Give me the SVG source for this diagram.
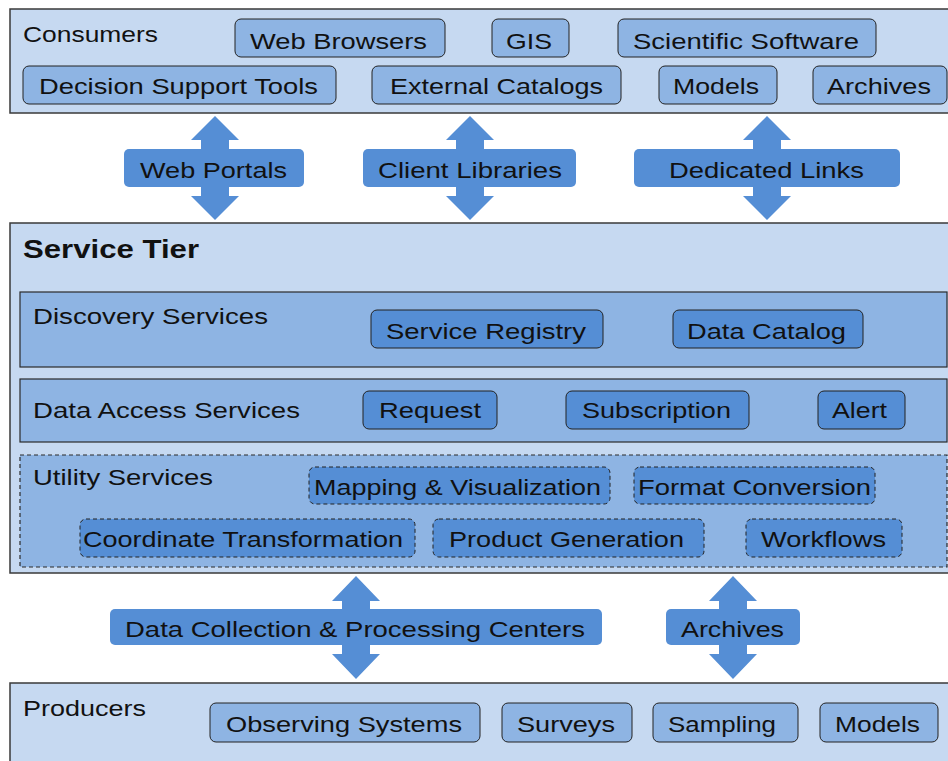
<svg xmlns="http://www.w3.org/2000/svg" width="948" height="761" viewBox="0 0 948 761">
<style>
.outer{fill:#C6D9F1;stroke:#3a3a3a;stroke-width:1.5}
.sect{fill:#8EB4E3;stroke:#2a2a2a;stroke-width:1.2}
.sectd{fill:#8EB4E3;stroke:#2a2a2a;stroke-width:1.2;stroke-dasharray:4 3}
.nl{fill:#8EB4E3;stroke:#222;stroke-width:1}
.nd{fill:#558ED5;stroke:#222;stroke-width:1}
.ndd{fill:#558ED5;stroke:#222;stroke-width:1;stroke-dasharray:4 3}
.arr{fill:#558ED5}
text{font-family:"Liberation Sans",Arial,sans-serif;font-size:22px;fill:#111}
.b{font-weight:bold;font-size:25px}
</style>
<rect width="948" height="761" fill="#fff"/>
<g id="consumers">
<rect class="outer" x="10" y="9" width="940" height="104"/>
<text x="23" y="42" textLength="135" lengthAdjust="spacingAndGlyphs">Consumers</text>
</g>
<g id="web-browsers"><rect class="nl" x="235" y="19" width="210" height="38" rx="6"/><text x="250" y="49" textLength="177" lengthAdjust="spacingAndGlyphs">Web Browsers</text></g>
<g id="gis"><rect class="nl" x="492" y="19" width="77" height="38" rx="6"/><text x="506" y="49" textLength="46" lengthAdjust="spacingAndGlyphs">GIS</text></g>
<g id="scientific-software"><rect class="nl" x="618" y="19" width="258" height="38" rx="6"/><text x="633" y="49" textLength="226" lengthAdjust="spacingAndGlyphs">Scientific Software</text></g>
<g id="decision-support"><rect class="nl" x="23" y="66" width="313" height="38" rx="6"/><text x="39" y="94" textLength="279" lengthAdjust="spacingAndGlyphs">Decision Support  Tools</text></g>
<g id="external-catalogs"><rect class="nl" x="372" y="66" width="249" height="38" rx="6"/><text x="390" y="94" textLength="213" lengthAdjust="spacingAndGlyphs">External Catalogs</text></g>
<g id="models-c"><rect class="nl" x="659" y="66" width="118" height="38" rx="6"/><text x="673" y="94" textLength="86" lengthAdjust="spacingAndGlyphs">Models</text></g>
<g id="archives-c"><rect class="nl" x="813" y="66" width="134" height="38" rx="6"/><text x="827" y="94" textLength="104" lengthAdjust="spacingAndGlyphs">Archives</text></g>

<g id="service-tier">
<rect class="outer" x="10" y="223" width="940" height="350"/>
<text class="b" x="23" y="258" textLength="176" lengthAdjust="spacingAndGlyphs">Service Tier</text>
</g>
<g id="discovery-services">
<rect class="sect" x="20" y="292" width="927" height="75"/>
<text x="33" y="324" textLength="235" lengthAdjust="spacingAndGlyphs">Discovery Services</text>
</g>
<g id="service-registry"><rect class="nd" x="371" y="310" width="232" height="38" rx="6"/><text x="386" y="339" textLength="200" lengthAdjust="spacingAndGlyphs">Service Registry</text></g>
<g id="data-catalog"><rect class="nd" x="673" y="310" width="190" height="38" rx="6"/><text x="687" y="339" textLength="159" lengthAdjust="spacingAndGlyphs">Data Catalog</text></g>
<g id="data-access-services">
<rect class="sect" x="20" y="379" width="927" height="63"/>
<text x="33" y="418" textLength="267" lengthAdjust="spacingAndGlyphs">Data Access Services</text>
</g>
<g id="request"><rect class="nd" x="363" y="391" width="134" height="38" rx="6"/><text x="379" y="418" textLength="102" lengthAdjust="spacingAndGlyphs">Request</text></g>
<g id="subscription"><rect class="nd" x="566" y="391" width="183" height="38" rx="6"/><text x="582" y="418" textLength="149" lengthAdjust="spacingAndGlyphs">Subscription</text></g>
<g id="alert"><rect class="nd" x="818" y="391" width="87" height="38" rx="6"/><text x="832" y="418" textLength="55" lengthAdjust="spacingAndGlyphs">Alert</text></g>
<g id="utility-services">
<rect class="sectd" x="20" y="455" width="927" height="112"/>
<text x="33" y="485" textLength="180" lengthAdjust="spacingAndGlyphs">Utility Services</text>
</g>
<g id="mapping"><rect class="ndd" x="309" y="467" width="301" height="37" rx="6"/><text x="314" y="495" textLength="287" lengthAdjust="spacingAndGlyphs">Mapping  &amp; Visualization</text></g>
<g id="format-conversion"><rect class="ndd" x="634" y="467" width="241" height="37" rx="6"/><text x="638" y="495" textLength="233" lengthAdjust="spacingAndGlyphs">Format Conversion</text></g>
<g id="coordinate-transformation"><rect class="ndd" x="80" y="519" width="335" height="38" rx="6"/><text x="83" y="547" textLength="320" lengthAdjust="spacingAndGlyphs">Coordinate Transformation</text></g>
<g id="product-generation"><rect class="ndd" x="433" y="519" width="271" height="38" rx="6"/><text x="449" y="547" textLength="235" lengthAdjust="spacingAndGlyphs">Product Generation</text></g>
<g id="workflows"><rect class="ndd" x="746" y="519" width="156" height="38" rx="6"/><text x="761" y="547" textLength="125" lengthAdjust="spacingAndGlyphs">Workflows</text></g>

<g id="producers">
<rect class="outer" x="10" y="683" width="940" height="90"/>
<text x="23" y="716" textLength="123" lengthAdjust="spacingAndGlyphs">Producers</text>
</g>
<g id="observing-systems"><rect class="nl" x="210" y="703" width="270" height="39" rx="6"/><text x="226" y="732" textLength="236" lengthAdjust="spacingAndGlyphs">Observing Systems</text></g>
<g id="surveys"><rect class="nl" x="502" y="703" width="130" height="39" rx="6"/><text x="517" y="732" textLength="98" lengthAdjust="spacingAndGlyphs">Surveys</text></g>
<g id="sampling"><rect class="nl" x="653" y="703" width="145" height="39" rx="6"/><text x="668" y="732" textLength="108" lengthAdjust="spacingAndGlyphs">Sampling</text></g>
<g id="models-p"><rect class="nl" x="820" y="703" width="118" height="39" rx="6"/><text x="835" y="732" textLength="85" lengthAdjust="spacingAndGlyphs">Models</text></g>

<g id="connectors">
<path class="arr" d="M215,116 L239,140 L229,140 L229,196 L239,196 L215,220 L191,196 L201,196 L201,140 L191,140 Z"/>
<rect class="arr" x="124" y="149" width="180" height="38" rx="5"/>
<text x="140" y="178" textLength="147" lengthAdjust="spacingAndGlyphs">Web Portals</text>
<path class="arr" d="M470,116 L494,140 L484,140 L484,196 L494,196 L470,220 L446,196 L456,196 L456,140 L446,140 Z"/>
<rect class="arr" x="363" y="149" width="213" height="38" rx="5"/>
<text x="378" y="178" textLength="184" lengthAdjust="spacingAndGlyphs">Client Libraries</text>
<path class="arr" d="M767,116 L791,140 L781,140 L781,196 L791,196 L767,220 L743,196 L753,196 L753,140 L743,140 Z"/>
<rect class="arr" x="634" y="149" width="266" height="38" rx="5"/>
<text x="669" y="178" textLength="195" lengthAdjust="spacingAndGlyphs">Dedicated Links</text>
<path class="arr" d="M356,576 L380,601 L370,601 L370,654 L380,654 L356,679 L332,654 L342,654 L342,601 L332,601 Z"/>
<rect class="arr" x="110" y="609" width="492" height="36" rx="5"/>
<text x="125" y="637" textLength="460" lengthAdjust="spacingAndGlyphs">Data Collection &amp; Processing Centers</text>
<path class="arr" d="M733,576 L757,601 L747,601 L747,654 L757,654 L733,679 L709,654 L719,654 L719,601 L709,601 Z"/>
<rect class="arr" x="666" y="609" width="134" height="36" rx="5"/>
<text x="681" y="637" textLength="103" lengthAdjust="spacingAndGlyphs">Archives</text>
</g>
</svg>
